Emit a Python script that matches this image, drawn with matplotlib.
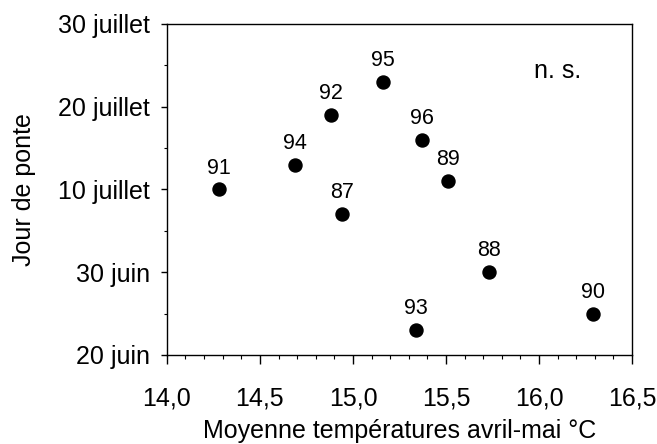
import numpy as np
import matplotlib
matplotlib.use("Agg")
import matplotlib.pyplot as plt
from matplotlib.ticker import MultipleLocator

plt.rcParams['font.family'] = ['Liberation Sans', 'DejaVu Sans']

# annee, temperature moyenne avril-mai, jour de ponte (jours depuis le 1er juin)
years = ['91', '94', '92', '87', '95', '96', '89', '88', '93', '90']
temp = [14.28, 14.69, 14.88, 14.94, 15.16, 15.37, 15.51, 15.73, 15.34, 16.29]
day = [40, 43, 49, 37, 53, 46, 41, 30, 23, 25]

ytick_pos = [20, 30, 40, 50, 60]
ytick_lab = ['20 juin', '30 juin', '10 juillet', '20 juillet', '30 juillet']
xtick_pos = [14.0, 14.5, 15.0, 15.5, 16.0, 16.5]

fig = plt.figure(figsize=(6.57, 4.44), dpi=100)
ax = fig.add_axes([0.254, 0.2005, 0.708, 0.7455])

ax.scatter(temp, day, s=88, color='black', zorder=3)
for t, d, yr in zip(temp, day, years):
    ax.annotate(yr, (t, d), xytext=(0, 11.5), textcoords='offset points',
                ha='center', va='baseline', fontsize=15.5)

ax.text(0.839, 0.837, 'n. s.', transform=ax.transAxes, ha='center', va='baseline', fontsize=18)

ax.set_xlim(14.0, 16.5)
ax.set_ylim(20, 60)
ax.set_xticks(xtick_pos)
ax.set_xticklabels([f"{v:.1f}".replace('.', ',') for v in xtick_pos])
ax.xaxis.set_minor_locator(MultipleLocator(0.1))
ax.set_yticks(ytick_pos)
ax.set_yticklabels(ytick_lab)
ax.yaxis.set_minor_locator(MultipleLocator(5))

ax.tick_params(axis='x', which='major', length=6.5, width=1, pad=16, labelsize=18)
ax.tick_params(axis='x', which='minor', length=3, width=0.8)
ax.tick_params(axis='y', which='major', length=4, width=1, pad=8, labelsize=18)
ax.tick_params(axis='y', which='minor', length=2.5, width=0.8)
for s in ax.spines.values():
    s.set_linewidth(1)

ax.set_xlabel('Moyenne températures avril-mai °C', fontsize=18, labelpad=6)
ax.set_ylabel('Jour de ponte', fontsize=18, labelpad=16)

fig.savefig('out.png', dpi=100)
